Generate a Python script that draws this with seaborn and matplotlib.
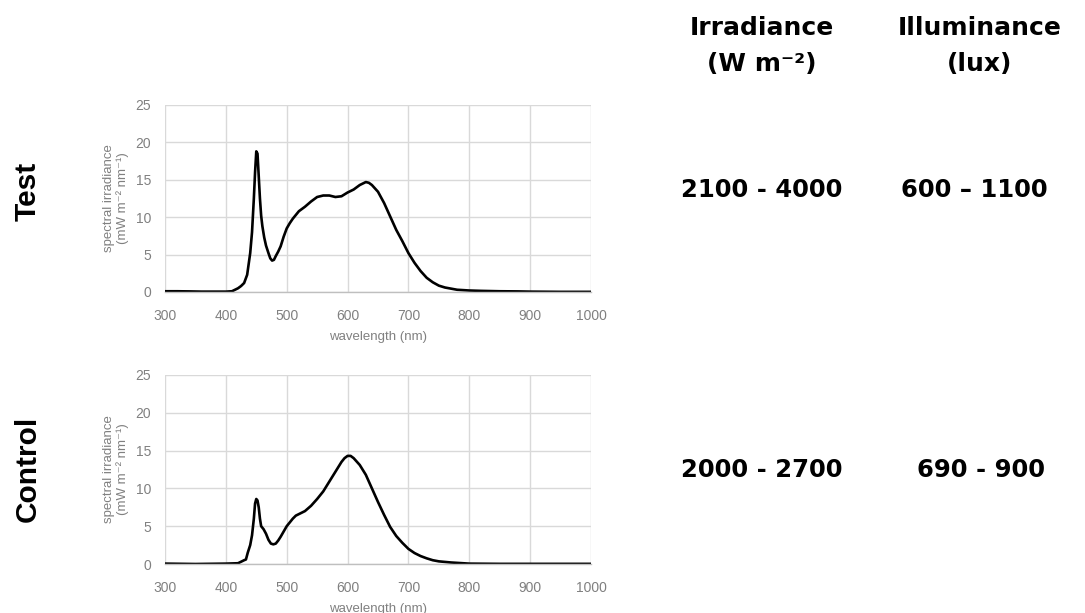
import numpy as np
import pandas as pd
import matplotlib
matplotlib.use("Agg")
import matplotlib.pyplot as plt
from matplotlib.ticker import MultipleLocator
import seaborn as sns

# ---------------- data ----------------
test_wl = [300, 320, 340, 360, 380, 400, 410, 420, 425, 430, 435, 440, 443, 446, 448,
           450, 452, 454, 456, 458, 460, 463, 466, 470, 473, 476, 479, 482, 486, 490,
           495, 500, 505, 510, 515, 520, 530, 540, 550, 560, 570, 580, 590, 600, 610,
           620, 630, 635, 640, 650, 660, 670, 680, 690, 700, 710, 720, 730, 740, 750,
           760, 770, 780, 800, 820, 850, 880, 900, 950, 1000]
test_val = [0.1, 0.1, 0.08, 0.05, 0.05, 0.05, 0.1, 0.5, 0.8, 1.2, 2.3, 5.2, 8.0, 12.5, 16.0,
            18.8, 18.5, 15.5, 12.5, 10.2, 8.8, 7.3, 6.2, 5.2, 4.5, 4.2, 4.3, 4.8, 5.4, 6.1,
            7.4, 8.5, 9.2, 9.8, 10.3, 10.8, 11.4, 12.1, 12.7, 12.9, 12.9, 12.7, 12.8, 13.3, 13.7,
            14.3, 14.7, 14.6, 14.3, 13.4, 11.9, 10.1, 8.3, 6.8, 5.2, 3.9, 2.8, 1.9, 1.3, 0.85,
            0.6, 0.45, 0.3, 0.2, 0.15, 0.1, 0.08, 0.05, 0.02, 0.02]

ctrl_wl = [300, 350, 400, 420, 425, 430, 433, 436, 440, 443, 446, 448, 450, 452, 454,
           456, 458, 462, 466, 470, 474, 478, 482, 486, 490, 495, 500, 505, 510, 515,
           520, 530, 540, 550, 560, 570, 580, 590, 595, 600, 605, 610, 620, 630, 640,
           650, 660, 670, 680, 690, 700, 710, 720, 730, 740, 750, 770, 800, 850, 900, 1000]
ctrl_val = [0.05, 0.0, 0.05, 0.1, 0.3, 0.5, 0.6, 1.5, 2.5, 3.8, 6.0, 8.0, 8.6, 8.4, 7.5,
            6.0, 5.0, 4.6, 4.0, 3.2, 2.7, 2.6, 2.7, 3.1, 3.6, 4.3, 5.0, 5.5, 6.0, 6.4,
            6.6, 7.0, 7.7, 8.6, 9.6, 10.9, 12.2, 13.5, 14.0, 14.3, 14.3, 14.0, 13.1, 11.8, 10.0,
            8.2, 6.5, 4.9, 3.7, 2.8, 2.0, 1.45, 1.05, 0.75, 0.5, 0.35, 0.2, 0.05, 0.02, 0.02, 0.02]

row_labels = ["Test", "Control"]
header_irr = "Irradiance\n(W m\u207b\u00b2)"
header_lux = "Illuminance\n(lux)"
irr_values = ["2100 - 4000", "2000 - 2700"]
lux_values = ["600 \u2013 1100", "690 - 900"]

x_label = "wavelength (nm)"
y_label = "spectral irradiance\n(mW m\u207b\u00b2 nm\u207b\u00b9)"
x_ticks = [300, 400, 500, 600, 700, 800, 900, 1000]
y_ticks = [0, 5, 10, 15, 20, 25]

# ---------------- style ----------------
sns.set_style("white")
plt.rcParams["font.family"] = ["Liberation Sans", "DejaVu Sans"]

W, H = 1085, 613
fig = plt.figure(figsize=(W / 100, H / 100), dpi=100)
fig.patch.set_facecolor("white")

def fx(px):
    return px / W

def fy(py):
    return 1 - py / H

axes_px = [(165, 105, 591, 292), (165, 375, 591, 564)]
datasets = [(test_wl, test_val), (ctrl_wl, ctrl_val)]

grid_c = "#d9d9d9"
tick_c = "#808080"

for (l, t, r, b), (wl, val) in zip(axes_px, datasets):
    ax = fig.add_axes([fx(l), fy(b), (r - l) / W, (b - t) / H])
    df = pd.DataFrame({"wl": wl, "val": val})
    sns.lineplot(data=df, x="wl", y="val", ax=ax, color="black", linewidth=1.9)
    ax.set_xlim(300, 1000)
    ax.set_ylim(0, 25)
    ax.set_xticks(x_ticks)
    ax.set_yticks(y_ticks)
    ax.xaxis.set_minor_locator(MultipleLocator(50))
    ax.grid(True, which="major", color=grid_c, linewidth=1.0)
    ax.set_axisbelow(True)
    for s in ["top", "right", "left"]:
        ax.spines[s].set_visible(False)
    ax.spines["bottom"].set_color("#bfbfbf")
    ax.spines["bottom"].set_linewidth(1.0)
    ax.tick_params(axis="x", which="both", length=3, width=0.8, color="#bfbfbf",
                   labelcolor=tick_c, labelsize=10, pad=9)
    ax.tick_params(axis="y", length=0, labelcolor=tick_c, labelsize=10, pad=10)
    ax.set_xlabel(x_label, color=tick_c, fontsize=9.5, labelpad=6)
    ax.set_ylabel(y_label, color=tick_c, fontsize=9.5, labelpad=5, linespacing=1.05)

# Row labels
for lab, cy in zip(row_labels, [191, 469]):
    fig.text(fx(28), fy(cy), lab, rotation=90, ha="center", va="center",
             fontsize=21.5, fontweight="bold", color="black")

# Headers
bold_font = ["DejaVu Sans"]
fig.text(fx(762), fy(46), header_irr, ha="center", va="center", fontsize=18,
         fontweight="bold", family=bold_font, linespacing=1.6, color="black")
fig.text(fx(980), fy(46), header_lux, ha="center", va="center", fontsize=18,
         fontweight="bold", family=bold_font, linespacing=1.6, color="black")

# Values
for iv, lv, cy, lx in zip(irr_values, lux_values, [190, 470], [974, 981]):
    fig.text(fx(762), fy(cy), iv, ha="center", va="center", fontsize=17.5,
             fontweight="bold", family=bold_font, color="black")
    fig.text(fx(lx), fy(cy), lv, ha="center", va="center", fontsize=17.5,
             fontweight="bold", family=bold_font, color="black")

fig.savefig("out.png", dpi=100, facecolor="white")
